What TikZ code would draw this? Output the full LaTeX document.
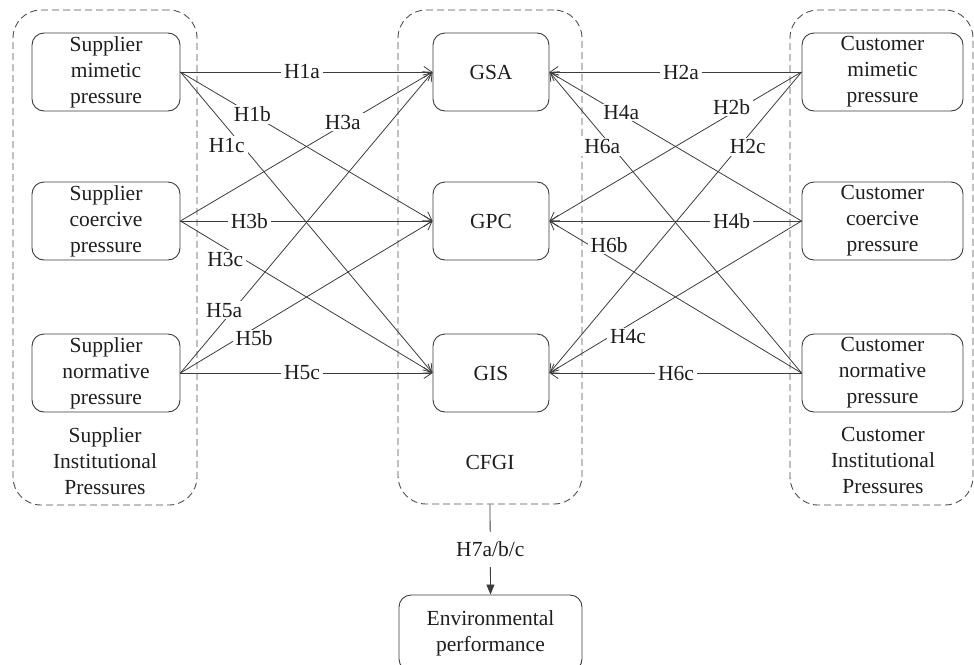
\documentclass[tikz,border=0pt]{standalone}
\usepackage{fontspec}
\setmainfont{Liberation Serif}
\usetikzlibrary{arrows.meta}
\definecolor{ink}{HTML}{1E1E1E}
\definecolor{linegray}{HTML}{3C3C3C}
\definecolor{dashgray}{HTML}{505050}

\begin{document}
\begin{tikzpicture}[x=1pt,y=-1pt,
  font=\fontsize{21.5}{26}\selectfont,
  every node/.style={text=ink},
  group/.style={draw=dashgray, dash pattern=on 7pt off 4pt, line width=0.9pt,
    rounded corners=28pt, inner sep=0pt},
  box/.style={draw=linegray, line width=0.9pt, rounded corners=12pt,
    align=center, inner sep=0pt, minimum height=78pt},
  sidebox/.style={box, minimum width=148pt},
  custbox/.style={box, minimum width=161pt},
  midbox/.style={box, minimum width=116pt},
  grouptitle/.style={align=center, inner sep=0pt},
  link/.style={draw=linegray, line width=0.8pt,
    -{Straight Barb[length=8pt,width=11pt,line width=0.8pt]}},
  lab/.style={fill=white, inner xsep=3pt, inner ysep=1.5pt}
]
\useasboundingbox (0,0) rectangle (974,664);
\clip (0,0) rectangle (974,664);

% dashed grouping frames
\node[group, minimum width=184pt, minimum height=495pt] (supbox)  at (105,257.5) {};
\node[group, minimum width=184pt, minimum height=494pt] (cfgibox) at (490,257) {};
\node[group, minimum width=183pt, minimum height=495pt] (cusbox)  at (881.5,257.5) {};

% supplier pressures
\node[sidebox] (sm) at (106,72)  {Supplier\\mimetic\\pressure};
\node[sidebox] (sc) at (106,221) {Supplier\\coercive\\pressure};
\node[sidebox] (sn) at (106,373) {Supplier\\normative\\pressure};

% green practices
\node[midbox] (gsa) at (491,72)  {GSA};
\node[midbox] (gpc) at (491,221) {GPC};
\node[midbox] (gis) at (491,373) {GIS};

% customer pressures
\node[custbox] (cm) at (882.5,72)  {Customer\\mimetic\\pressure};
\node[custbox] (cc) at (882.5,221) {Customer\\coercive\\pressure};
\node[custbox] (cn) at (882.5,373) {Customer\\normative\\pressure};

% group titles
\node[grouptitle] (suptitle)  at (105,461.5) {Supplier\\Institutional\\Pressures};
\node[grouptitle] (cfgititle) at (490,462)   {CFGI};
\node[grouptitle] (custitle)  at (883,460.5) {Customer\\Institutional\\Pressures};

% outcome
\node[box, minimum width=183pt, minimum height=76pt] (env) at (490.5,633)
  {Environmental\\performance};

% supplier hypotheses
\draw[link] (sm.east) -- node[lab, pos=0.482] {H1a} (gsa.west);
\draw[link] (sm.east) -- node[lab, pos=0.285] {H1b} (gpc.west);
\draw[link] (sm.east) -- node[lab, pos=0.243, xshift=-15pt] {H1c} (gis.west);
\draw[link] (sc.east) -- node[lab, pos=0.644, yshift=3pt] {H3a} (gsa.west);
\draw[link] (sc.east) -- node[lab, pos=0.273] {H3b} (gpc.west);
\draw[link] (sc.east) -- node[lab, pos=0.178, yshift=-11pt] {H3c} (gis.west);
\draw[link] (sn.east) -- node[lab, pos=0.209, xshift=-9pt] {H5a} (gsa.west);
\draw[link] (sn.east) -- node[lab, pos=0.292, yshift=-10pt] {H5b} (gpc.west);
\draw[link] (sn.east) -- node[lab, pos=0.482] {H5c} (gis.west);

% customer hypotheses
\draw[link] (cm.west) -- node[lab, pos=0.478] {H2a} (gsa.east);
\draw[link] (cm.west) -- node[lab, pos=0.277, yshift=6pt] {H2b} (gpc.east);
\draw[link] (cm.west) -- node[lab, pos=0.249, xshift=9pt] {H2c} (gis.east);
\draw[link] (cc.west) -- node[lab, pos=0.715, yshift=2pt] {H4a} (gsa.east);
\draw[link] (cc.west) -- node[lab, pos=0.277] {H4b} (gpc.east);
\draw[link] (cc.west) -- node[lab, pos=0.688, yshift=-11pt] {H4c} (gis.east);
\draw[link] (cn.west) -- node[lab, pos=0.751, xshift=-10pt] {H6a} (gsa.east);
\draw[link] (cn.west) -- node[lab, pos=0.763, yshift=12pt] {H6b} (gpc.east);
\draw[link] (cn.west) -- node[lab, pos=0.498] {H6c} (gis.east);

% effect on environmental performance
\draw[draw=linegray, line width=0.8pt, -{Triangle[length=10pt,width=8pt]}]
  (cfgibox.south) -- node[lab, inner ysep=10pt] {H7a/b/c} (env.north);
\end{tikzpicture}
\end{document}
